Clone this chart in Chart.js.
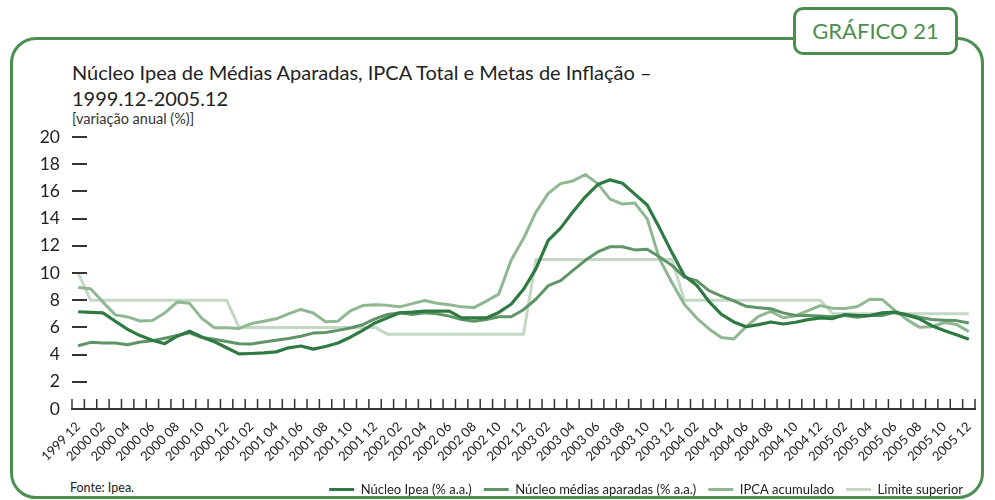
<!DOCTYPE html>
<html>
<head>
<meta charset="utf-8">
<script src="https://cdn.jsdelivr.net/npm/chart.js@4.4.1/dist/chart.umd.min.js"></script>
<style>
  body { margin: 0; background: #fff; font-family: Lato, "Open Sans", sans-serif; color: #222; }
  #wrap { position: relative; width: 995px; height: 500px; overflow: hidden; }
  #frame { position: absolute; left: 10px; top: 37px; width: 974px; height: 462px;
           border: 3px solid #4b8f50; border-radius: 26px; box-sizing: border-box; }
  #badge { position: absolute; left: 793px; top: 7px; width: 165px; height: 48px;
           border: 3px solid #4b8f50; border-radius: 10px; background: #fff; box-sizing: border-box;
           color: #4b8f50; font-size: 22px; text-align: center; line-height: 42px; }
  #title { position: absolute; left: 72px; top: 59px; font-size: 20px; line-height: 26px; color: #222; }
  #sub { position: absolute; left: 72px; top: 110px; font-size: 14.5px; color: #333; }
  #fonte { position: absolute; left: 70px; top: 480px; font-size: 12.5px; color: #222; }
  canvas { position: absolute; left: 0; top: 0; }
</style>
</head>
<body>
<div id="wrap">
  <div id="frame"></div>
  <div id="badge">GRÁFICO 21</div>
  <div id="title">Núcleo Ipea de Médias Aparadas, IPCA Total e Metas de Inflação –<br>1999.12-2005.12</div>
  <div id="sub">[variação anual (%)]</div>
  <div id="fonte">Fonte: Ipea.</div>
  <canvas id="chart" width="995" height="500"></canvas>
</div>
<script>
// months, 1999.12 - 2005.12
const months = [
  "1999 12",
  "2000 01", "2000 02", "2000 03", "2000 04", "2000 05", "2000 06", "2000 07", "2000 08", "2000 09", "2000 10", "2000 11", "2000 12",
  "2001 01", "2001 02", "2001 03", "2001 04", "2001 05", "2001 06", "2001 07", "2001 08", "2001 09", "2001 10", "2001 11", "2001 12",
  "2002 01", "2002 02", "2002 03", "2002 04", "2002 05", "2002 06", "2002 07", "2002 08", "2002 09", "2002 10", "2002 11", "2002 12",
  "2003 01", "2003 02", "2003 03", "2003 04", "2003 05", "2003 06", "2003 07", "2003 08", "2003 09", "2003 10", "2003 11", "2003 12",
  "2004 01", "2004 02", "2004 03", "2004 04", "2004 05", "2004 06", "2004 07", "2004 08", "2004 09", "2004 10", "2004 11", "2004 12",
  "2005 01", "2005 02", "2005 03", "2005 04", "2005 05", "2005 06", "2005 07", "2005 08", "2005 09", "2005 10", "2005 11", "2005 12"
];

const nucleoIpea = [
  7.15,
  7.1, 7.07, 6.45, 5.85, 5.4, 5.05, 4.8, 5.35, 5.72, 5.3, 4.95, 4.5,
  4.05, 4.08, 4.12, 4.2, 4.5, 4.63, 4.4, 4.6, 4.85, 5.28, 5.78, 6.33,
  6.7, 7.07, 7.12, 7.2, 7.2, 7.2, 6.7, 6.7, 6.7, 7.1, 7.7, 8.8,
  10.3, 12.4, 13.3, 14.5, 15.6, 16.5, 16.85, 16.6, 15.8, 15.0, 13.3, 11.5,
  9.8, 9.1, 7.9, 6.95, 6.4, 6.05, 6.2, 6.4, 6.25, 6.38, 6.57, 6.7,
  6.65, 6.95, 6.87, 6.87, 7.07, 7.12, 6.9, 6.63, 6.13, 5.78, 5.46, 5.13
];

const nucleoMedias = [
  4.65,
  4.9, 4.85, 4.85, 4.72, 4.92, 5.02, 5.2, 5.4, 5.6, 5.25, 5.13, 4.96,
  4.8, 4.78, 4.92, 5.05, 5.18, 5.35, 5.58, 5.63, 5.78, 5.96, 6.2, 6.63,
  6.95, 7.07, 6.95, 7.07, 7.0, 6.83, 6.58, 6.45, 6.58, 6.78, 6.78, 7.3,
  8.07, 9.07, 9.44, 10.2, 10.93, 11.55, 11.93, 11.93, 11.7, 11.75, 11.18, 10.56,
  9.7, 9.44, 8.7, 8.3, 7.95, 7.55, 7.45, 7.37, 7.07, 6.87, 6.87, 6.83,
  6.78, 6.87, 6.75, 6.87, 6.87, 7.12, 6.95, 6.75, 6.58, 6.53, 6.5, 6.33
];

const ipcaAcumulado = [
  8.94,
  8.85, 7.86, 6.92, 6.77, 6.47, 6.51, 7.06, 7.86, 7.77, 6.66, 5.97, 5.97,
  5.92, 6.28, 6.45, 6.63, 7.0, 7.32, 7.06, 6.41, 6.46, 7.21, 7.61, 7.67,
  7.62, 7.51, 7.75, 7.98, 7.77, 7.66, 7.51, 7.46, 7.93, 8.45, 10.93, 12.53,
  14.47, 15.85, 16.57, 16.77, 17.24, 16.57, 15.43, 15.07, 15.14, 13.98, 11.02, 9.3,
  7.71, 6.69, 5.89, 5.26, 5.15, 6.06, 6.81, 7.18, 6.71, 6.86, 7.24, 7.6,
  7.41, 7.39, 7.54, 8.07, 8.05, 7.27, 6.57, 6.02, 6.04, 6.36, 6.22, 5.69
];

const limiteSuperior = [
  10,
  8, 8, 8, 8, 8, 8, 8, 8, 8, 8, 8, 8,
  6, 6, 6, 6, 6, 6, 6, 6, 6, 6, 6, 6,
  5.5, 5.5, 5.5, 5.5, 5.5, 5.5, 5.5, 5.5, 5.5, 5.5, 5.5, 5.5,
  11, 11, 11, 11, 11, 11, 11, 11, 11, 11, 11, 11,
  8, 8, 8, 8, 8, 8, 8, 8, 8, 8, 8, 8,
  7, 7, 7, 7, 7, 7, 7, 7, 7, 7, 7, 7
];

const yTicks = [0, 2, 4, 6, 8, 10, 12, 14, 16, 18, 20];

const FONT = "Lato, 'Open Sans', sans-serif";

function line(label, data, color, width) {
  return {
    label: label,
    data: data,
    borderColor: color,
    backgroundColor: color,
    borderWidth: width,
    pointRadius: 0,
    tension: 0,
    borderJoinStyle: "round"
  };
}

// short tick marks drawn inside the plot, like the original
const innerTicks = {
  id: "innerTicks",
  afterDraw(chart) {
    const ctx = chart.ctx;
    const area = chart.chartArea;
    const y = chart.scales.y;
    ctx.save();
    ctx.strokeStyle = "#333";
    ctx.lineWidth = 2;
    // y dashes
    yTicks.forEach(v => {
      if (v === 0) return;
      const py = Math.round(y.getPixelForValue(v));
      ctx.beginPath();
      ctx.moveTo(area.left, py);
      ctx.lineTo(area.left + 15, py);
      ctx.stroke();
    });
    // x ticks at category boundaries
    ctx.lineWidth = 1.5;
    const step = (area.right - area.left) / months.length;
    for (let i = 0; i <= months.length; i++) {
      const px = area.left + i * step;
      ctx.beginPath();
      ctx.moveTo(px, area.bottom);
      ctx.lineTo(px, area.bottom - 10);
      ctx.stroke();
    }
    ctx.restore();
  }
};

new Chart(document.getElementById("chart"), {
  type: "line",
  data: {
    labels: months,
    datasets: [
      line("Núcleo Ipea (% a.a.)", nucleoIpea, "#2f7a42", 3.2),
      line("Núcleo médias aparadas (% a.a.)", nucleoMedias, "#5f9467", 3),
      line("IPCA acumulado", ipcaAcumulado, "#8fb791", 3),
      line("Limite superior", limiteSuperior, "#c4d9c4", 3)
    ]
  },
  options: {
    responsive: false,
    animation: false,
    layout: { padding: { left: 0, right: 20, top: 137, bottom: -6 } },
    plugins: {
      tooltip: { enabled: false },
      legend: {
        position: "bottom",
        align: "end",
        labels: {
          boxWidth: 25,
          boxHeight: 3,
          padding: 12,
          color: "#222",
          font: { family: FONT, size: 13 },
          generateLabels(chart) {
            return Chart.defaults.plugins.legend.labels.generateLabels(chart)
              .map(l => Object.assign(l, { lineWidth: 0 }));
          }
        }
      }
    },
    scales: {
      x: {
        offset: true,
        grid: { display: false },
        border: { display: true, color: "#333", width: 2 },
        ticks: {
          autoSkip: false,
          minRotation: 45,
          maxRotation: 45,
          padding: 2,
          color: "#222",
          font: { family: FONT, size: 13 },
          callback: (v, i) => (i % 2 === 0 ? months[i] : "")
        },
        afterFit(scale) { scale.height = 62; }
      },
      y: {
        min: 0,
        max: 20,
        afterBuildTicks(scale) { scale.ticks = yTicks.map(v => ({ value: v })); },
        grid: { display: false, drawTicks: false },
        border: { display: false },
        ticks: {
          padding: 12,
          color: "#222",
          font: { family: FONT, size: 17.5 }
        },
        afterFit(scale) { scale.width = 72; }
      }
    }
  },
  plugins: [innerTicks]
});
</script>
</body>
</html>
